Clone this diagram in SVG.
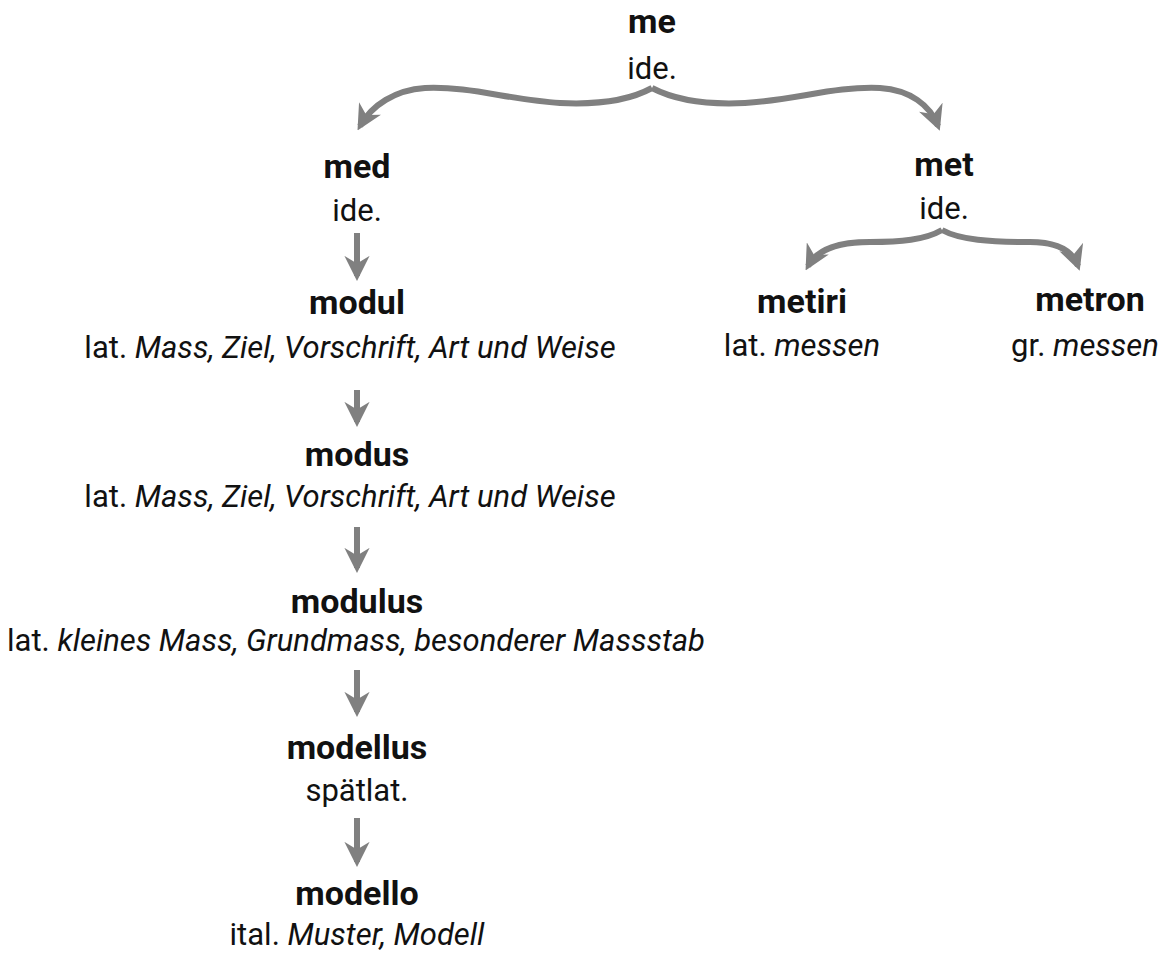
<svg xmlns="http://www.w3.org/2000/svg" width="1162" height="954" viewBox="0 0 1162 954">
<style>
text{font-family:Roboto,"Liberation Sans",sans-serif;text-anchor:middle;fill:#111}
.t{font-weight:bold;font-size:34px}
.s{font-size:31px}
.i{font-style:italic}
.c{fill:none;stroke:#808080;stroke-width:6}
</style>
<defs>
<marker id="ah" viewBox="0 0 10 10" refX="8" refY="5" markerWidth="4.2" markerHeight="4.2" orient="auto" markerUnits="strokeWidth">
<path d="M0,0 L10,5 L0,10 L3,5 z" fill="#808080"/>
</marker>
</defs>
<rect width="1162" height="954" fill="#fff"/>
<g id="connectors">
<path class="c" marker-end="url(#ah)" d="M652,88 C630,100 600,105 560,103 C510,100 470,86 425,88 C395,90 372,105 360,126"/>
<path class="c" marker-end="url(#ah)" d="M652,88 C675,100 705,105 745,103 C795,100 835,86 880,88 C910,90 930,105 938,126"/>
<path class="c" marker-end="url(#ah)" d="M942,230 C925,240 900,242 870,242 C840,242 818,248 808,266"/>
<path class="c" marker-end="url(#ah)" d="M942,230 C960,240 990,242 1030,242 C1060,242 1073,252 1078,266"/>
<path class="c" marker-end="url(#ah)" d="M357,233 V276"/>
<path class="c" marker-end="url(#ah)" d="M357,390 V422"/>
<path class="c" marker-end="url(#ah)" d="M357,527 V568"/>
<path class="c" marker-end="url(#ah)" d="M357,670 V712"/>
<path class="c" marker-end="url(#ah)" d="M357,818 V862"/>
</g>
<g id="me"><text class="t" x="652" y="33">me</text><text class="s" x="652" y="79">ide.</text></g>
<g id="med"><text class="t" x="357" y="178">med</text><text class="s" x="357" y="221">ide.</text></g>
<g id="modul"><text class="t" x="357" y="314">modul</text><text class="s" x="350" y="358">lat. <tspan class="i">Mass, Ziel, Vorschrift, Art und Weise</tspan></text></g>
<g id="modus"><text class="t" x="357" y="466">modus</text><text class="s" x="350" y="507">lat. <tspan class="i">Mass, Ziel, Vorschrift, Art und Weise</tspan></text></g>
<g id="modulus"><text class="t" x="357" y="613">modulus</text><text class="s" x="356" y="651">lat. <tspan class="i">kleines Mass, Grundmass, besonderer Massstab</tspan></text></g>
<g id="modellus"><text class="t" x="357" y="759">modellus</text><text class="s" x="357" y="801">spätlat.</text></g>
<g id="modello"><text class="t" x="357" y="905">modello</text><text class="s" x="357" y="945">ital. <tspan class="i">Muster, Modell</tspan></text></g>
<g id="met"><text class="t" x="944" y="176">met</text><text class="s" x="944" y="219">ide.</text></g>
<g id="metiri"><text class="t" x="802" y="313">metiri</text><text class="s" x="802" y="356">lat. <tspan class="i">messen</tspan></text></g>
<g id="metron"><text class="t" x="1090" y="311">metron</text><text class="s" x="1085" y="356">gr. <tspan class="i">messen</tspan></text></g>
</svg>
